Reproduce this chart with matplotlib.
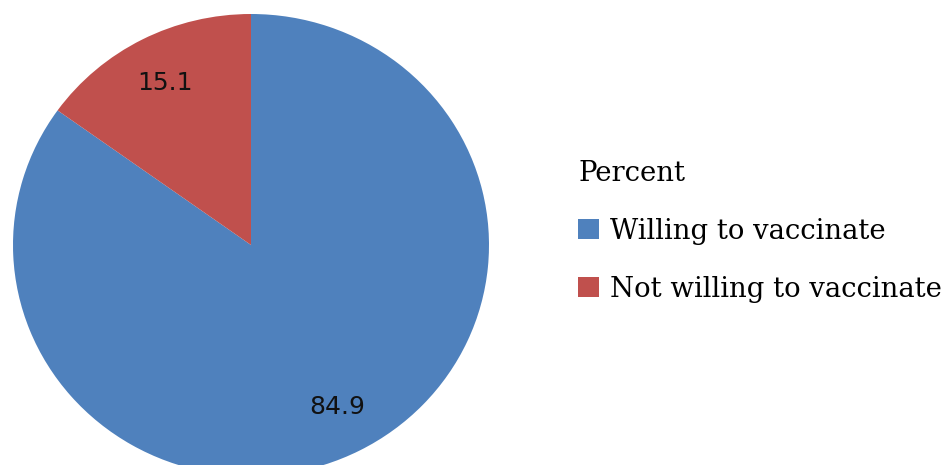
import matplotlib.pyplot as plt

categories = ['Willing to vaccinate', 'Not willing to vaccinate']
percent = [84.9, 15.1]
colors = ['#4F81BD', '#C0504D']

W, H = 949, 465
fig = plt.figure(figsize=(W / 100, H / 100), dpi=100)

# pie centre (251, 245) px, radii 238 x 231 px (slightly squashed in source)
cx, cy, rx, ry = 251, 245, 238, 231
ax = fig.add_axes([(cx - rx) / W, (H - cy - ry) / H, 2 * rx / W, 2 * ry / H])

wedges, texts, autotexts = ax.pie(
    percent, colors=colors, startangle=90, counterclock=False,
    autopct='%.1f', pctdistance=0.79,
    wedgeprops=dict(linewidth=0),
    textprops=dict(fontsize=18, family='DejaVu Sans', color='#111111'))
ax.set_aspect('auto')
ax.set_xlim(-1, 1)
ax.set_ylim(-1, 1)

leg = fig.legend(wedges, categories, title='Percent',
                 loc='upper left', bbox_to_anchor=(578 / W, 1 - 160 / H),
                 frameon=False, borderpad=0, borderaxespad=0,
                 handlelength=0.75, handleheight=0.75, handletextpad=0.4,
                 labelspacing=1.12, alignment='left',
                 prop=dict(family='DejaVu Serif', size=19.8),
                 title_fontproperties=dict(family='DejaVu Serif', size=19.8))

fig.savefig('out.png', dpi=100)
